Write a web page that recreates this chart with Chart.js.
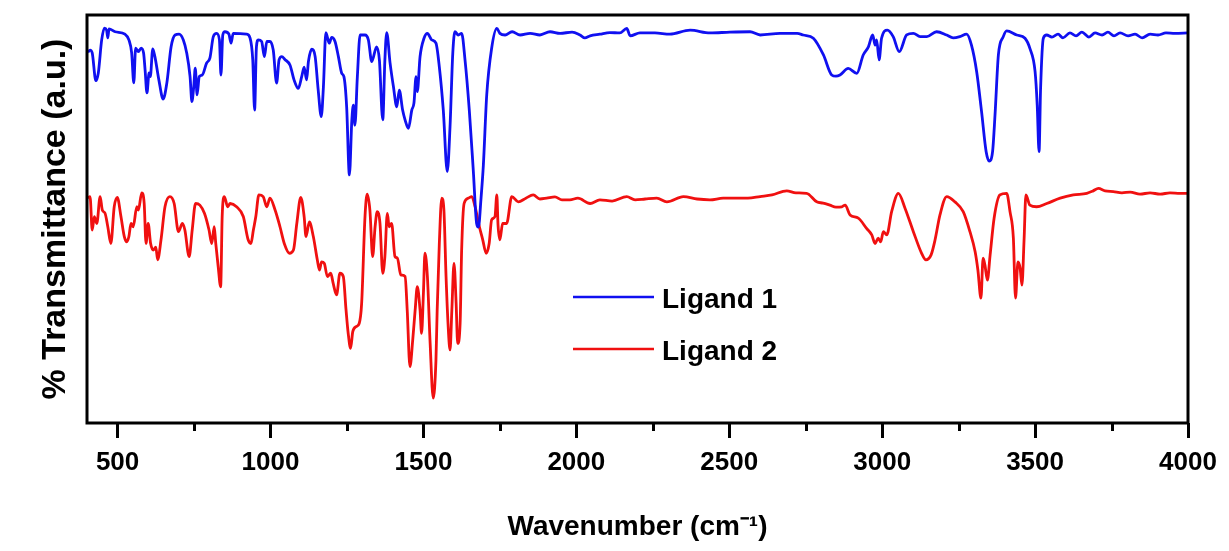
<!DOCTYPE html>
<html>
<head>
<meta charset="utf-8">
<script src="https://cdn.jsdelivr.net/npm/chart.js@4.4.1/dist/chart.umd.min.js"></script>
<style>
html,body{margin:0;padding:0;background:#fff;}
#wrap{width:1229px;height:551px;position:relative;}
</style>
</head>
<body>
<div id="wrap"><canvas id="c" width="1229" height="551"></canvas></div>
<script>
// ---- data ----
const seriesNames = ['Ligand 1', 'Ligand 2'];
const seriesColors = ['#1010f0', '#f01010'];

const lig1Wn = [403,410,417,429,437,448,457,464,468,472,492,524,537,546,553,559,568,577,585,590,596,603,607,615,622,635,649,661,675,688,701,715,726,737,743,749,754,760,767,777,791,802,813,824,833,838,844,851,864,871,878,922,933,942,948,954,960,971,980,988,998,1009,1020,1028,1037,1047,1064,1077,1091,1102,1110,1118,1124,1135,1146,1156,1166,1173,1181,1192,1200,1211,1222,1233,1240,1249,1258,1266,1271,1276,1284,1293,1309,1320,1331,1347,1356,1367,1374,1380,1391,1402,1413,1421,1432,1440,1451,1462,1469,1476,1480,1489,1502,1513,1527,1541,1552,1565,1578,1587,1596,1603,1614,1625,1636,1650,1663,1674,1680,1688,1696,1707,1723,1740,1750,1767,1790,1816,1849,1881,1914,1947,1986,2012,2028,2045,2077,2110,2142,2165,2176,2208,2257,2306,2372,2437,2502,2568,2601,2666,2722,2742,2775,2808,2835,2849,2862,2889,2917,2938,2955,2969,2977,2982,2990,2998,3017,3036,3056,3080,3102,3124,3146,3178,3211,3232,3254,3276,3292,3309,3325,3340,3350,3361,3369,3380,3396,3407,3440,3467,3483,3500,3507,3513,3518,3527,3538,3555,3575,3591,3614,3634,3653,3676,3696,3719,3738,3758,3778,3804,3827,3850,3876,3902,3928,3957,4000];
const lig1T = [90.9,91.4,90.7,83.9,85.8,93.9,96.8,96.3,94.4,96.6,95.9,95.3,93.9,90.7,83.4,91.9,91.0,91.9,90.7,86.5,80.9,85.8,84.9,91.7,89.8,84.1,79.4,83.3,92.2,95.1,95.3,93.9,90.7,84.9,78.8,82.4,87.0,80.4,84.9,85.3,88.2,89.5,94.7,95.5,93.9,85.3,95.1,95.9,95.3,93.1,95.5,95.3,94.4,89.0,76.7,92.2,93.9,93.5,89.8,93.5,93.5,91.4,83.3,89.0,89.8,89.1,87.7,84.1,82.0,84.9,87.2,84.1,88.6,91.6,89.8,81.6,75.1,82.4,95.7,93.1,94.5,93.5,89.8,85.7,84.9,77.5,60.8,74.3,77.9,73.0,84.9,95.1,95.1,93.9,88.6,92.2,89.0,74.3,89.0,95.7,88.2,82.4,77.5,81.6,76.7,74.3,72.2,76.7,78.4,84.9,81.2,89.8,94.3,95.5,93.9,93.1,87.3,76.7,61.6,72.6,90.6,95.9,95.1,95.5,89.0,76.7,62.0,48.9,48.0,54.7,63.2,80.4,91.8,96.7,95.5,95.1,95.9,95.1,95.5,95.1,95.9,95.5,95.8,95.1,94.4,94.9,95.3,95.7,95.6,96.7,94.9,95.6,95.6,95.3,96.3,95.6,95.8,95.9,95.1,95.5,95.5,95.1,94.3,90.2,85.3,85.0,85.3,86.9,85.7,90.2,92.2,95.1,92.6,93.9,89.0,94.3,96.3,94.7,91.0,95.1,95.5,94.7,94.7,95.9,95.1,94.4,94.7,95.3,92.6,86.1,76.3,66.5,64.2,66.5,75.5,90.2,94.7,96.1,95.1,94.3,91.8,86.1,77.9,66.5,82.0,94.3,95.1,94.6,95.3,94.4,95.6,94.9,95.8,94.6,95.6,95.1,95.8,94.9,95.6,94.9,95.3,94.4,95.3,95.1,95.6,95.5,95.6];

const lig2Wn = [403,410,417,424,432,443,450,459,468,478,489,499,511,522,530,537,544,551,563,568,579,587,593,600,608,617,625,631,642,655,671,685,699,712,720,734,744,755,769,784,799,808,816,821,829,837,842,849,860,868,889,911,927,936,944,952,962,976,988,998,1015,1031,1045,1062,1075,1086,1099,1110,1116,1127,1140,1153,1160,1167,1176,1186,1197,1205,1216,1227,1238,1247,1254,1262,1269,1280,1290,1298,1309,1316,1325,1334,1342,1349,1358,1367,1374,1382,1388,1396,1407,1415,1426,1440,1447,1456,1465,1473,1480,1489,1494,1500,1505,1513,1522,1532,1541,1545,1552,1560,1567,1574,1581,1587,1593,1600,1607,1612,1620,1625,1633,1647,1658,1669,1683,1694,1705,1715,1723,1734,1740,1744,1750,1759,1772,1789,1810,1835,1859,1881,1903,1930,1953,1979,2005,2045,2077,2117,2165,2192,2225,2263,2296,2350,2395,2437,2480,2524,2561,2601,2640,2688,2718,2753,2786,2807,2829,2849,2868,2879,2895,2922,2949,2966,2977,2987,2995,3004,3015,3031,3053,3075,3102,3129,3143,3160,3173,3189,3211,3238,3265,3287,3304,3313,3323,3330,3336,3344,3353,3366,3385,3407,3418,3429,3436,3444,3451,3457,3464,3470,3483,3505,3538,3582,3625,3669,3690,3707,3729,3756,3784,3811,3843,3876,3909,3941,3974,4000];
const lig2T = [55.1,55.5,47.3,50.6,48.9,55.5,52.2,51.4,48.1,44.0,53.0,55.3,50.6,45.7,44.4,45.7,48.9,48.1,53.0,52.2,56.4,53.8,44.0,48.9,44.0,42.4,43.1,40.0,44.9,53.0,55.5,53.8,46.9,48.9,47.3,40.8,47.3,53.8,53.4,51.4,47.3,44.0,48.1,44.0,38.3,33.4,50.6,55.5,53.0,53.8,53.0,50.6,44.9,44.0,47.3,50.6,55.9,55.5,53.0,55.1,52.2,48.1,44.0,41.6,42.4,48.9,55.3,50.6,45.7,49.3,45.7,40.0,37.5,39.5,39.1,35.9,36.7,34.2,31.4,36.7,35.9,27.7,22.0,18.3,22.4,23.6,24.4,29.3,50.6,56.1,52.2,40.8,48.1,51.8,48.9,36.7,40.8,51.4,48.1,48.9,40.8,40.4,36.3,35.9,27.7,13.8,20.3,27.7,33.4,27.7,22.0,31.8,41.6,35.9,19.5,6.1,15.4,27.7,44.0,55.1,52.2,35.9,23.6,17.9,27.7,39.1,29.3,19.5,24.4,42.4,53.8,55.1,55.5,53.0,48.1,44.9,41.6,44.0,49.8,50.6,55.9,48.5,44.9,48.9,48.9,55.5,54.2,55.1,55.9,54.9,55.1,55.4,54.7,54.7,55.1,53.8,54.7,54.4,55.5,54.7,54.9,55.1,54.2,55.5,54.9,54.7,55.1,55.1,55.1,55.5,55.9,56.9,56.4,56.3,54.2,53.9,53.4,52.9,53.0,53.4,51.0,50.2,47.7,46.1,44.0,45.3,44.4,46.9,46.1,51.8,56.3,52.6,46.9,41.6,40.0,41.2,44.9,51.0,55.5,54.2,51.8,46.9,42.0,37.5,30.6,40.4,38.7,35.0,41.2,50.2,55.9,56.3,51.8,45.3,30.6,39.5,38.0,33.8,44.9,55.9,53.4,53.0,53.8,55.1,55.9,56.3,56.9,57.5,56.9,56.7,56.4,56.6,56.1,56.4,56.1,56.4,56.3,56.3];

const xMajorTicks = [500,1000,1500,2000,2500,3000,3500,4000];
const xMinorTicks = [750,1250,1750,2250,2750,3250,3750];
const xRange = [400, 4000];
const yRange = [0, 100];

const xTitle = 'Wavenumber (cm\u207B\u00B9)';
const yTitle = '% Transmittance (a.u.)';

// ---- build chart ----
const toPoints = (wn, t) => wn.map((w, i) => ({x: w, y: t[i]}));
const FONT = "'Liberation Sans', Arial, Helvetica, sans-serif";

const whiteBg = {
  id: 'whiteBg',
  beforeDraw(chart) {
    const c = chart.ctx;
    c.save(); c.fillStyle = '#fff'; c.fillRect(0, 0, chart.width, chart.height); c.restore();
  }
};

const frameAndMinor = {
  id: 'frameAndMinor',
  afterDraw(chart) {
    const c = chart.ctx, a = chart.chartArea, xs = chart.scales.x;
    c.save();
    c.strokeStyle = '#000';
    c.lineWidth = 3;
    c.strokeRect(a.left, a.top, a.right - a.left, a.bottom - a.top);
    c.beginPath();
    xMinorTicks.forEach(v => {
      const px = Math.round(xs.getPixelForValue(v)) + 0.5;
      c.moveTo(px, a.bottom); c.lineTo(px, a.bottom + 8);
    });
    c.stroke();
    c.restore();
  }
};

const legendBox = {
  id: 'legendBox',
  afterDraw(chart) {
    const c = chart.ctx;
    const rows = [297, 349];
    c.save();
    c.font = "bold 28px " + FONT;
    c.textBaseline = 'middle';
    c.textAlign = 'left';
    chart.data.datasets.forEach((ds, i) => {
      const y = rows[i];
      c.strokeStyle = ds.borderColor;
      c.lineWidth = 2.6;
      c.beginPath(); c.moveTo(573, y); c.lineTo(654, y); c.stroke();
      c.fillStyle = '#000';
      c.fillText(ds.label, 662, y + 3);
    });
    c.restore();
  }
};

new Chart(document.getElementById('c'), {
  type: 'line',
  data: {
    datasets: [
      {label: seriesNames[0], data: toPoints(lig1Wn, lig1T), borderColor: seriesColors[0]},
      {label: seriesNames[1], data: toPoints(lig2Wn, lig2T), borderColor: seriesColors[1]}
    ]
  },
  options: {
    responsive: false,
    animation: false,
    devicePixelRatio: 1,
    layout: {padding: {left: 0, right: 41, top: 15, bottom: 0}},
    elements: {
      point: {radius: 0},
      line: {borderWidth: 2.8, cubicInterpolationMode: 'monotone', fill: false}
    },
    plugins: {legend: {display: false}, tooltip: {enabled: false}},
    scales: {
      x: {
        type: 'linear',
        min: xRange[0], max: xRange[1],
        afterFit(s) { s.height = 128; },
        afterBuildTicks(s) {
          s.ticks = xMajorTicks.map(v => ({value: v}));
        },
        border: {display: false},
        grid: {
          display: true, drawOnChartArea: false, drawTicks: true,
          tickLength: 15, tickWidth: 3, tickColor: '#000'
        },
        ticks: {
          padding: 9, color: '#000', maxRotation: 0, autoSkip: false,
          font: {family: FONT, size: 26, weight: 'bold'},
          callback: v => String(v)
        },
        title: {
          display: true, text: xTitle, color: '#000',
          font: {family: FONT, size: 28, weight: 'bold'},
          padding: {top: 0, bottom: 7}
        }
      },
      y: {
        min: yRange[0], max: yRange[1],
        afterFit(s) { s.width = 87; },
        border: {display: false},
        grid: {display: false},
        ticks: {display: false},
        title: {
          display: true, text: yTitle, color: '#000',
          font: {family: FONT, size: 34, weight: 'bold'},
          padding: {top: 35, bottom: 0}
        }
      }
    }
  },
  plugins: [whiteBg, frameAndMinor, legendBox]
});
</script>
</body>
</html>
